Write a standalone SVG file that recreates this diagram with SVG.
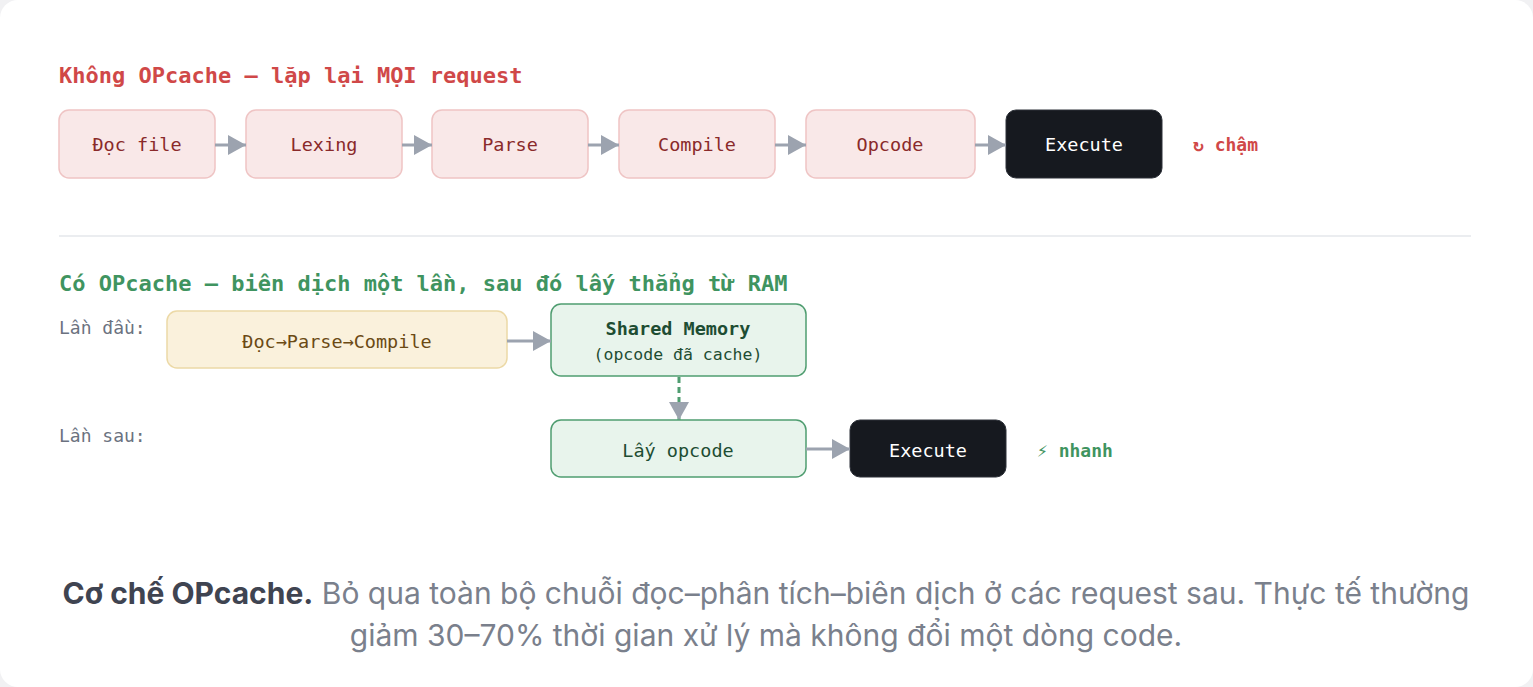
<svg xmlns="http://www.w3.org/2000/svg" width="1533" height="687" viewBox="0 0 1533 687">
<style>
.mono{font-family:"DejaVu Sans Mono","Liberation Mono",monospace}
.t1{font-size:22px;font-weight:bold;fill:#d04848}
.t2{font-size:22px;font-weight:bold;fill:#3f9460}
.pink rect{fill:#f9e8e8;stroke:#efc4c4;stroke-width:1.5}
.pink text{fill:#8a2a2a}
.dark rect{fill:#16191f;stroke:#2d3139;stroke-width:1}
.dark text{fill:#ffffff}
.lbl{font-size:18.5px;text-anchor:middle;dominant-baseline:central}
.side{font-size:18px;fill:#6b7280}
.conn line{stroke:#9ca3af;stroke-width:3}
.cap{font-family:Inter,"Noto Sans",sans-serif;font-size:30px;text-anchor:middle}
</style>
<defs>
<marker id="ah" markerWidth="18" markerHeight="20" refX="18" refY="10" orient="auto" markerUnits="userSpaceOnUse">
<path d="M0,0 L18,10 L0,20 Z" fill="#9ca3af"/>
</marker>
</defs>
<rect x="0" y="0" width="1533" height="687" fill="#f1f1f3"/>
<rect x="0" y="0" width="1533" height="687" rx="18" fill="#ffffff"/>

<text class="mono t1" x="59" y="83">Không OPcache — lặp lại MỌI request</text>

<g id="n-doc" class="pink mono"><rect x="59" y="110" width="156" height="68" rx="10"/><text class="lbl" x="137" y="144">Đọc file</text></g>
<g id="n-lex" class="pink mono"><rect x="246" y="110" width="156" height="68" rx="10"/><text class="lbl" x="324" y="144">Lexing</text></g>
<g id="n-parse" class="pink mono"><rect x="432" y="110" width="156" height="68" rx="10"/><text class="lbl" x="510" y="144">Parse</text></g>
<g id="n-compile" class="pink mono"><rect x="619" y="110" width="156" height="68" rx="10"/><text class="lbl" x="697" y="144">Compile</text></g>
<g id="n-opcode" class="pink mono"><rect x="806" y="110" width="169" height="68" rx="10"/><text class="lbl" x="890" y="144">Opcode</text></g>
<g id="n-exec1" class="dark mono"><rect x="1006" y="110" width="156" height="68" rx="10"/><text class="lbl" x="1084" y="144">Execute</text></g>
<text class="mono" x="1193" y="151" font-size="18" font-weight="bold" fill="#d04848">↻ chậm</text>

<line x1="59" y1="236" x2="1471" y2="236" stroke="#e5e7eb" stroke-width="1.5"/>

<text class="mono t2" x="59" y="291">Có OPcache — biên dịch một lần, sau đó lấy thẳng từ RAM</text>
<text class="mono side" x="59" y="334">Lần đầu:</text>
<text class="mono side" x="59" y="442">Lần sau:</text>

<g id="n-first" class="mono"><rect x="167" y="311" width="340" height="57" rx="10" fill="#faf1dc" stroke="#ecd9a6" stroke-width="1.5"/><text class="lbl" x="337" y="341" fill="#6b4a14">Đọc→Parse→Compile</text></g>
<g id="n-shm" class="mono"><rect x="551" y="304" width="255" height="72" rx="10" fill="#e8f4ec" stroke="#4f9d70" stroke-width="1.5"/><text class="lbl" x="678" y="328" fill="#1e4d33" font-weight="bold">Shared Memory</text><text class="lbl" x="678" y="354" fill="#1e4d33" style="font-size:16.5px">(opcode đã cache)</text></g>
<g id="n-get" class="mono"><rect x="551" y="420" width="255" height="57" rx="10" fill="#e8f4ec" stroke="#4f9d70" stroke-width="1.5"/><text class="lbl" x="678" y="450" fill="#1e4d33">Lấy opcode</text></g>
<g id="n-exec2" class="dark mono"><rect x="850" y="420" width="156" height="57" rx="10"/><text class="lbl" x="928" y="450">Execute</text></g>
<text class="mono" x="1037" y="457" font-size="18" font-weight="bold" fill="#3f9460">⚡ nhanh</text>

<g id="connectors" class="conn">
<line x1="215" y1="145" x2="246" y2="145" marker-end="url(#ah)"/>
<line x1="402" y1="145" x2="432" y2="145" marker-end="url(#ah)"/>
<line x1="588" y1="145" x2="619" y2="145" marker-end="url(#ah)"/>
<line x1="775" y1="145" x2="806" y2="145" marker-end="url(#ah)"/>
<line x1="975" y1="145" x2="1006" y2="145" marker-end="url(#ah)"/>
<line x1="507" y1="341" x2="551" y2="341" marker-end="url(#ah)"/>
<line x1="679" y1="377" x2="679" y2="420" style="stroke:#4f9d70;stroke-dasharray:6,4" marker-end="url(#ah)"/>
<line x1="806" y1="449" x2="850" y2="449" marker-end="url(#ah)"/>
</g>

<text class="cap" x="766" y="604"><tspan font-weight="bold" fill="#3f4451">Cơ chế OPcache.</tspan><tspan fill="#7a808c"> Bỏ qua toàn bộ chuỗi đọc–phân tích–biên dịch ở các request sau. Thực tế thường</tspan></text>
<text class="cap" x="766" y="646" fill="#7a808c">giảm 30–70% thời gian xử lý mà không đổi một dòng code.</text>
</svg>
